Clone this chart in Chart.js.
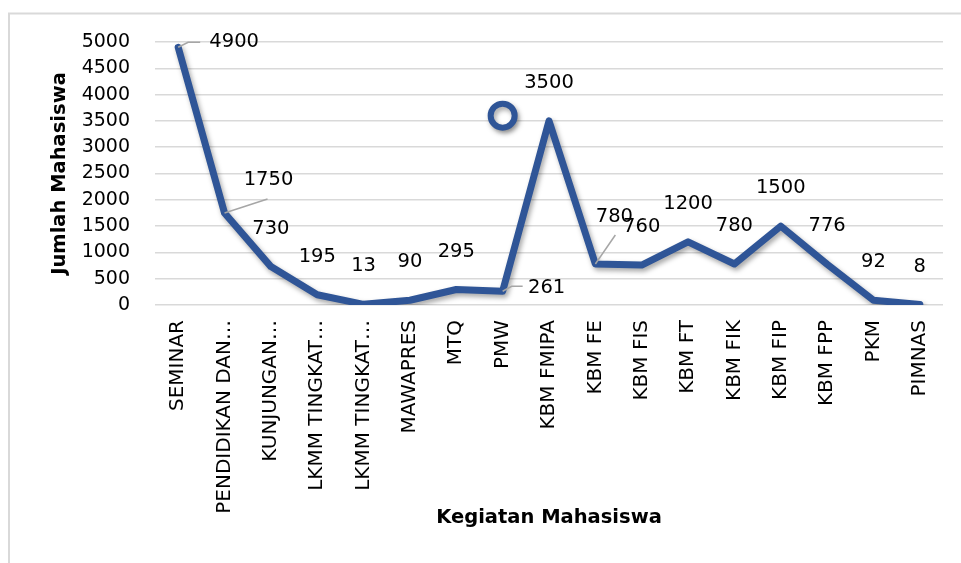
<!DOCTYPE html>
<html>
<head>
<meta charset="utf-8">
<title>Kegiatan Mahasiswa</title>
<script src="https://cdn.jsdelivr.net/npm/chart.js@4/dist/chart.umd.min.js"></script>
<style>
  html, body { margin: 0; padding: 0; background: #fff; }
  #wrap { width: 961px; height: 563px; }
</style>
</head>
<body>
<div id="wrap"><canvas id="chart" width="961" height="563"></canvas></div>
<script>
// data
const categories = ['SEMINAR', 'PENDIDIKAN DAN…', 'KUNJUNGAN…', 'LKMM TINGKAT…', 'LKMM TINGKAT…',
    'MAWAPRES', 'MTQ', 'PMW', 'KBM FMIPA', 'KBM FE', 'KBM FIS', 'KBM FT', 'KBM FIK', 'KBM FIP',
    'KBM FPP', 'PKM', 'PIMNAS'];
const jumlahMahasiswa = [4900, 1750, 730, 195, 13, 90, 295, 261, 3500, 780, 760, 1200, 780, 1500, 776, 92, 8];
// the lone hollow marker floating near PMW
const markerValues = [null, null, null, null, null, null, null, 3600, null, null, null, null, null, null, null, null, null];
const yMin = 0, yMax = 5000, yStep = 500;

const blue = 'rgb(47,85,151)';
const grid = '#d9d9d9';

// chart frame (only the left and top edges show)
const framePlugin = {
    id: 'frame',
    beforeDraw(chart) {
        const ctx = chart.ctx;
        ctx.save();
        ctx.strokeStyle = grid;
        ctx.lineWidth = 2;
        ctx.beginPath();
        ctx.moveTo(9, 563);
        ctx.lineTo(9, 13.5);
        ctx.lineTo(961, 13.5);
        ctx.stroke();
        ctx.restore();
    }
};

// soft drop shadow under the line
const shadowPlugin = {
    id: 'lineShadow',
    beforeDatasetsDraw(chart) {
        const ctx = chart.ctx;
        ctx.save();
        ctx.shadowColor = 'rgba(0,0,0,0.35)';
        ctx.shadowBlur = 5;
        ctx.shadowOffsetX = 2;
        ctx.shadowOffsetY = 3;
    },
    afterDatasetsDraw(chart) {
        chart.ctx.restore();
    }
};

// value labels, some with leader lines
const labelPlugin = {
    id: 'valueLabels',
    afterDatasetsDraw(chart, args, opts) {
        const meta = chart.getDatasetMeta(0);
        const ctx = chart.ctx;
        ctx.save();
        ctx.font = opts.font;
        ctx.fillStyle = '#000';
        ctx.strokeStyle = '#a6a6a6';
        ctx.lineWidth = 1.5;
        ctx.textAlign = 'center';
        ctx.textBaseline = 'middle';
        meta.data.forEach((pt, i) => {
            const o = opts.offsets[i] || {};
            const dx = o.dx ?? 0;
            const dy = o.dy ?? opts.defaultDy;
            if (o.leader) {
                ctx.beginPath();
                ctx.moveTo(pt.x, pt.y);
                o.leader.forEach(([lx, ly]) => ctx.lineTo(pt.x + lx, pt.y + ly));
                ctx.stroke();
            }
            ctx.fillText(String(jumlahMahasiswa[i]), pt.x + dx, pt.y + dy);
        });
        ctx.restore();
    }
};

const ctx = document.getElementById('chart').getContext('2d');
new Chart(ctx, {
    type: 'line',
    data: {
        labels: categories,
        datasets: [
            {
                data: jumlahMahasiswa,
                borderColor: blue,
                borderWidth: 7,
                borderJoinStyle: 'round',
                borderCapStyle: 'round',
                pointRadius: 0,
                tension: 0,
                fill: false
            },
            {
                data: markerValues,
                showLine: false,
                pointRadius: 12,
                pointBorderWidth: 6,
                pointBorderColor: blue,
                pointBackgroundColor: '#fff'
            }
        ]
    },
    options: {
        responsive: false,
        animation: false,
        layout: { padding: { left: 0, right: 14, top: 42, bottom: 0 } },
        plugins: {
            legend: { display: false },
            tooltip: { enabled: false },
            valueLabels: {
                font: '19.5px "DejaVu Sans"',
                defaultDy: -38,
                offsets: {
                    0: { dx: 56, dy: -5, leader: [[10, -5], [22, -5]] },
                    1: { dx: 44, dy: -33, leader: [[43, -14]] },
                    7: { dx: 44, dy: -3, leader: [[9, -5], [20, -5]] },
                    9: { dx: 19, dy: -47, leader: [[20, -29]] }
                }
            }
        },
        scales: {
            x: {
                offset: true,
                grid: { display: false, drawTicks: false },
                border: { display: false },
                ticks: {
                    autoSkip: false,
                    maxRotation: 90,
                    minRotation: 90,
                    padding: 15,
                    color: '#000',
                    font: { family: '"DejaVu Sans"', size: 20 }
                },
                title: {
                    display: true,
                    text: 'Kegiatan Mahasiswa',
                    color: '#000',
                    font: { family: '"DejaVu Sans"', size: 19.5, weight: 'bold' },
                    padding: { top: 0, bottom: 33 }
                },
                afterFit(scale) { scale.height = 258; }
            },
            y: {
                min: yMin,
                max: yMax,
                ticks: {
                    stepSize: yStep,
                    padding: 25,
                    color: '#000',
                    font: { family: '"DejaVu Sans"', size: 19 },
                    callback: v => String(v)
                },
                grid: { color: grid, lineWidth: 1.5, drawTicks: false },
                border: { display: false },
                title: {
                    display: true,
                    text: 'Jumlah Mahasiswa',
                    color: '#000',
                    font: { family: '"DejaVu Sans"', size: 19.5, weight: 'bold' },
                    padding: { top: 48, bottom: 0 }
                },
                afterFit(scale) { scale.width = 155; }
            }
        }
    },
    plugins: [framePlugin, shadowPlugin, labelPlugin]
});
</script>
</body>
</html>
